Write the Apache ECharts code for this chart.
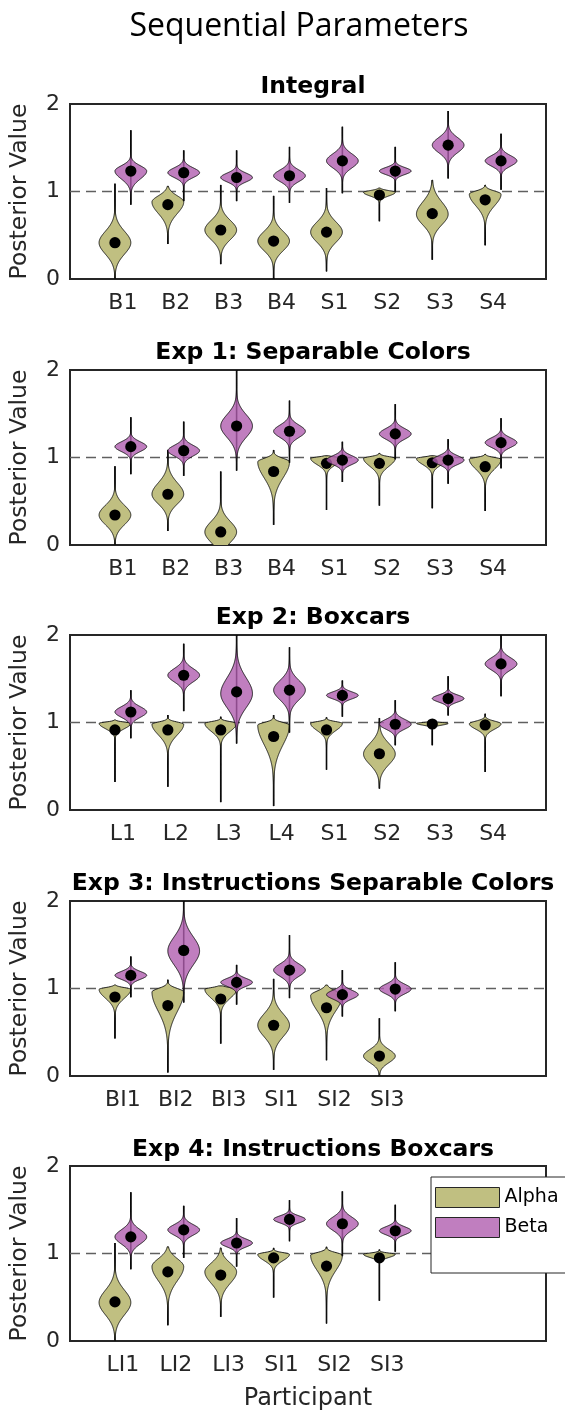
<!DOCTYPE html>
<html><head><meta charset="utf-8">
<script src="https://cdn.jsdelivr.net/npm/echarts@6/dist/echarts.min.js"></script>
<style>html,body{margin:0;padding:0;background:#fff}#c{width:565px;height:1420px}</style>
</head><body><div id="c"></div><script>
const mainTitle = 'Sequential Parameters';
const panelTitles = ['Integral', 'Exp 1: Separable Colors', 'Exp 2: Boxcars', 'Exp 3: Instructions Separable Colors', 'Exp 4: Instructions Boxcars'];
const yTicks = [0, 1, 2];
const categories = [
  ['B1', 'B2', 'B3', 'B4', 'S1', 'S2', 'S3', 'S4'],
  ['B1', 'B2', 'B3', 'B4', 'S1', 'S2', 'S3', 'S4'],
  ['L1', 'L2', 'L3', 'L4', 'S1', 'S2', 'S3', 'S4'],
  ['BI1', 'BI2', 'BI3', 'SI1', 'SI2', 'SI3'],
  ['LI1', 'LI2', 'LI3', 'SI1', 'SI2', 'SI3']
];
// each violin: [median, tail low, tail high, density peak, spread below peak, spread above peak]
const integralAlpha = [[.415,0,1.09,.415,.13,.13],[.85,.40,1.06,.88,.13,.07],[.56,.17,1.075,.56,.11,.11],[.434,0,.95,.434,.11,.11],[.536,.087,1.04,.536,.115,.115],[.96,.66,1.04,.99,.04,.02],[.747,.22,1.13,.74,.12,.14],[.905,.385,1.075,.97,.13,.035]];
const integralBeta = [[1.234,.85,1.70,1.234,.09,.06],[1.215,.89,1.47,1.215,.055,.055],[1.16,.89,1.47,1.16,.05,.05],[1.18,.87,1.51,1.18,.065,.065],[1.35,.98,1.74,1.35,.08,.08],[1.234,1.0,1.51,1.234,.04,.04],[1.53,1.15,1.92,1.53,.085,.085],[1.35,1.02,1.66,1.35,.06,.06]];
const exp1Alpha = [[.343,0,.90,.343,.11,.11],[.58,.16,1.086,.58,.11,.13],[.149,-.3,.84,.149,.12,.12],[.84,.23,1.086,.95,.18,.04],[.933,.40,1.02,.99,.07,.015],[.933,.45,1.05,.99,.09,.02],[.94,.42,1.02,.99,.07,.015],[.895,.39,1.04,.98,.11,.02]];
const exp1Beta = [[1.124,.81,1.46,1.124,.055,.055],[1.078,.79,1.41,1.078,.06,.06],[1.36,.85,2.1,1.36,.13,.13],[1.30,.94,1.65,1.30,.07,.07],[.97,.72,1.18,.97,.05,.05],[1.27,.98,1.61,1.27,.06,.06],[.97,.70,1.21,.97,.05,.05],[1.17,.876,1.45,1.17,.055,.055]];
const exp2Alpha = [[.915,.32,1.03,.99,.06,.015],[.915,.265,1.085,.98,.12,.025],[.915,.09,1.066,.99,.09,.02],[.84,.045,1.085,.97,.22,.03],[.915,.46,1.06,.99,.08,.02],[.643,.245,1.05,.64,.12,.12],[.983,.74,1.03,.99,.02,.01],[.972,.435,1.10,.985,.06,.03]];
const exp2Beta = [[1.12,.82,1.37,1.12,.06,.06],[1.54,1.13,1.90,1.54,.075,.075],[1.35,.76,2.1,1.33,.16,.18],[1.37,.885,1.86,1.37,.11,.11],[1.31,1.066,1.48,1.31,.04,.04],[.98,.74,1.255,.98,.055,.055],[1.274,1.08,1.53,1.274,.04,.04],[1.67,1.30,2.1,1.67,.07,.07]];
const exp3Alpha = [[.903,.43,1.04,.99,.1,.02],[.805,.04,1.10,.96,.22,.04],[.88,.37,1.03,.99,.1,.02],[.58,.07,1.11,.58,.13,.13],[.78,.18,1.04,.92,.17,.05],[.228,0,.66,.228,.075,.075]];
const exp3Beta = [[1.15,.90,1.366,1.15,.045,.045],[1.435,.84,2.1,1.43,.16,.16],[1.07,.816,1.27,1.07,.045,.045],[1.21,.89,1.61,1.21,.07,.07],[.93,.68,1.21,.93,.05,.05],[.994,.74,1.30,.994,.055,.055]];
const exp4Alpha = [[.447,0,1.12,.44,.14,.14],[.79,.18,1.076,.85,.16,.09],[.754,.276,1.064,.79,.13,.1],[.95,.496,1.064,.99,.07,.02],[.856,.20,1.076,.98,.17,.03],[.95,.46,1.045,.99,.035,.015]];
const exp4Beta = [[1.19,.82,1.70,1.19,.08,.08],[1.27,.95,1.545,1.27,.06,.06],[1.12,.85,1.405,1.12,.045,.045],[1.39,1.14,1.61,1.39,.04,.04],[1.34,.97,1.71,1.34,.075,.075],[1.26,1.02,1.557,1.26,.045,.045]];
const referenceValue = 1;

const alphaSets = [integralAlpha, exp1Alpha, exp2Alpha, exp3Alpha, exp4Alpha];
const betaSets = [integralBeta, exp1Beta, exp2Beta, exp3Beta, exp4Beta];

const FONT = 'DejaVu Sans';
const TXT = '#262626';
const ALPHA_FILL = '#C0BF81';
const BETA_FILL = 'rgba(176,94,175,0.8)';
const BETA_LEGEND = '#C07EBF';
const HALF_W = 0.3;
const OFFSET = 0.15;
const gridTops = [104, 370, 635, 901, 1166];
const titleTops = [70, 336, 601, 867, 1133];

function makeRender(fill) {
  return function (params, api) {
    const x = api.value(0), med = api.value(1), lo = api.value(2), hi = api.value(3);
    const peak = api.value(4), sDown = api.value(5), sUp = api.value(6);
    const n = 160, L = [], R = [];
    for (let i = 0; i <= n; i++) {
      const v = lo + (hi - lo) * i / n;
      const s = v < peak ? sDown : sUp;
      const w = HALF_W * Math.exp(-0.5 * Math.pow((v - peak) / s, 2));
      L.push(api.coord([x - w, v]));
      R.push(api.coord([x + w, v]));
    }
    const pts = L.concat(R.reverse());
    const a = api.coord([x, lo]), b = api.coord([x, hi]), c = api.coord([x, med]);
    return {
      type: 'group', children: [
        { type: 'line', shape: { x1: a[0], y1: a[1], x2: b[0], y2: b[1] }, style: { stroke: '#000', lineWidth: 1.6 } },
        { type: 'polygon', shape: { points: pts }, style: { fill: fill, stroke: '#111', lineWidth: 0.9 } },
        { type: 'circle', shape: { cx: c[0], cy: c[1], r: 5.6 }, style: { fill: '#000' } }
      ]
    };
  };
}

const grids = [], xAxes = [], yAxes = [], series = [];
const titles = [{ text: mainTitle, left: 294, top: 6, textAlign: 'center', textStyle: { fontFamily: 'Open Sans', fontSize: 32, fontWeight: 'normal', color: '#000' } }];

for (let p = 0; p < 5; p++) {
  const cats = categories[p];
  grids.push({ left: 70, right: 19, top: gridTops[p], height: 175, show: true, borderColor: '#262626', borderWidth: 2, backgroundColor: '#fff' });
  xAxes.push({
    gridIndex: p, type: 'value', min: 0, max: 9, interval: 1,
    axisLine: { show: false }, axisTick: { show: false }, splitLine: { show: false },
    axisLabel: { margin: 13, fontFamily: FONT, fontSize: 22, color: TXT, formatter: v => cats[v - 1] || '' },
    name: p === 4 ? 'Participant' : '', nameLocation: 'middle', nameGap: 46,
    nameTextStyle: { fontFamily: FONT, fontSize: 24, color: TXT }
  });
  yAxes.push({
    gridIndex: p, type: 'value', min: yTicks[0], max: yTicks[yTicks.length - 1], interval: 1,
    axisLine: { show: false }, axisTick: { show: false }, splitLine: { show: false },
    axisLabel: { margin: 10, fontFamily: FONT, fontSize: 22, color: TXT },
    name: 'Posterior Value', nameLocation: 'middle', nameGap: 38,
    nameTextStyle: { fontFamily: FONT, fontSize: 23.5, color: TXT }
  });
  titles.push({ text: panelTitles[p], left: 308, top: titleTops[p], textAlign: 'center', textStyle: { fontFamily: FONT, fontSize: 23.5, fontWeight: 'bold', color: '#000' } });
  series.push({
    type: 'line', xAxisIndex: p, yAxisIndex: p, data: [[0, referenceValue], [9, referenceValue]],
    symbol: 'none', silent: true, z: 1, lineStyle: { color: '#606060', width: 1.3, type: [10, 6] }
  });
  series.push({
    name: 'Alpha', type: 'custom', xAxisIndex: p, yAxisIndex: p, clip: true, z: 2,
    itemStyle: { color: ALPHA_FILL }, renderItem: makeRender(ALPHA_FILL),
    encode: { x: 0, y: 1 },
    data: alphaSets[p].map((d, i) => [i + 1 - OFFSET].concat(d))
  });
  series.push({
    name: 'Beta', type: 'custom', xAxisIndex: p, yAxisIndex: p, clip: true, z: 3,
    itemStyle: { color: BETA_LEGEND }, renderItem: makeRender(BETA_FILL),
    encode: { x: 0, y: 1 },
    data: betaSets[p].map((d, i) => [i + 1 + OFFSET].concat(d))
  });
}

const chart = echarts.init(document.getElementById('c'), null, { renderer: 'canvas' });
chart.setOption({
  animation: false,
  backgroundColor: '#fff',
  title: titles,
  grid: grids, xAxis: xAxes, yAxis: yAxes, series: series,
  legend: {
    orient: 'vertical', left: 431, top: 1177, itemWidth: 64, itemHeight: 20, itemGap: 9,
    padding: [10, 30, 35, 4], borderColor: '#262626', borderWidth: 1, backgroundColor: '#fff',
    textStyle: { fontFamily: FONT, fontSize: 19, color: '#000' },
    data: [
      { name: 'Alpha', icon: 'rect', itemStyle: { color: ALPHA_FILL, borderColor: '#262626', borderWidth: 1 } },
      { name: 'Beta', icon: 'rect', itemStyle: { color: BETA_LEGEND, borderColor: '#262626', borderWidth: 1 } }
    ]
  }
});
</script></body></html>
